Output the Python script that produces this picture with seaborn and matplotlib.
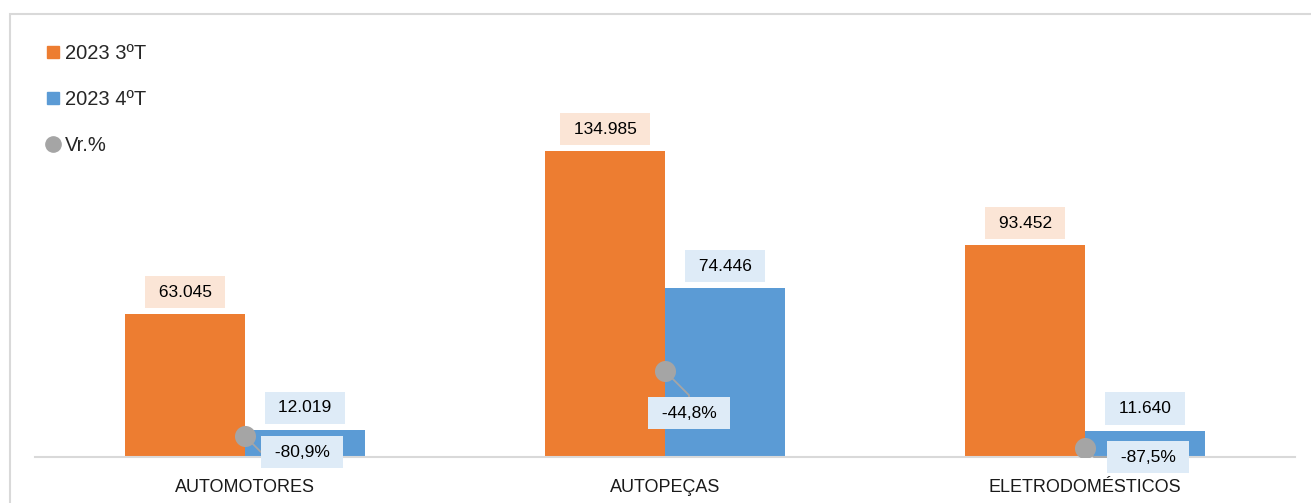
import pandas as pd
import seaborn as sns
import matplotlib.pyplot as plt
from matplotlib.lines import Line2D
from matplotlib.patches import Rectangle

# data
categorias = ["AUTOMOTORES", "AUTOPEÇAS", "ELETRODOMÉSTICOS"]
periodos = ["2023 3ºT", "2023 4ºT"]
valores_3t = [63045, 134985, 93452]
valores_4t = [12019, 74446, 11640]
variacao = [-80.9, -44.8, -87.5]

cor_3t = "#ED7D31"
cor_4t = "#5B9BD5"
cor_vr = "#A5A5A5"
fundo_3t = "#FBE5D6"
fundo_4t = "#DEEBF7"

# long table for seaborn
df = pd.DataFrame({
    "categoria": categorias * 2,
    "periodo": [periodos[0]] * 3 + [periodos[1]] * 3,
    "valor": valores_3t + valores_4t,
})

sns.set_style("white")
plt.rcParams["font.family"] = ["Liberation Sans", "DejaVu Sans"]

W, H = 1311, 503
fig = plt.figure(figsize=(W / 100, H / 100), dpi=100)
ax = fig.add_axes([35 / W, 46 / H, 1260 / W, 417 / H])

sns.barplot(data=df, x="categoria", y="valor", hue="periodo",
            palette=[cor_3t, cor_4t], width=0.571, gap=0,
            saturation=1, legend=False, linewidth=0, ax=ax)
ax.set_ylim(0, 184000)
ax.set_xlim(-0.5, 2.5)
ax.set_yticks([])
ax.set_xlabel("")
ax.set_ylabel("")
for s in ["top", "left", "right"]:
    ax.spines[s].set_visible(False)
ax.spines["bottom"].set_color("#D9D9D9")
ax.spines["bottom"].set_linewidth(1.5)
ax.tick_params(axis="x", length=0, pad=15.5, labelsize=13, labelcolor="#1a1a1a")

# value labels above each bar
for i, barra in enumerate(ax.patches[:6]):
    fundo = fundo_3t if i < 3 else fundo_4t
    x = barra.get_x() + barra.get_width() / 2
    h = barra.get_height()
    txt = " " + f"{int(round(h)):,}".replace(",", ".") + " "
    ax.annotate(txt, xy=(x, h), xytext=(0, 22), textcoords="offset pixels",
                ha="center", va="center", fontsize=12.5, color="#000000",
                bbox=dict(boxstyle="square,pad=0.5", fc=fundo, ec="none"))

# secondary axis for the % change
ax2 = ax.twinx()
ax2.set_ylim(-0.925, 1.392)
ax2.axis("off")
pos = list(range(len(categorias)))
vr = [v / 100 for v in variacao]
ax2.scatter(pos, vr, s=230, color=cor_vr, zorder=5, linewidths=0)

desloc = [(57, -16), (24, -42), (63, -9)]
conexao = ["angle,angleA=0,angleB=-45,rad=0",
           "angle,angleA=90,angleB=-45,rad=0",
           "angle,angleA=0,angleB=-45,rad=0"]
for p, v, d, c in zip(pos, variacao, desloc, conexao):
    rot = " " + f"{v:.1f}%".replace(".", ",") + " "
    ax2.annotate(rot, xy=(p, v / 100), xytext=d, textcoords="offset pixels",
                 ha="center", va="center", fontsize=12.5, color="#000000",
                 bbox=dict(boxstyle="square,pad=0.5", fc=fundo_4t, ec="none"),
                 arrowprops=dict(arrowstyle="-", color=cor_vr, lw=1.3,
                                 connectionstyle=c, shrinkA=0, shrinkB=0),
                 zorder=4)

# legend
handles = [
    Line2D([], [], marker="s", ls="none", color=cor_3t, markersize=9),
    Line2D([], [], marker="s", ls="none", color=cor_4t, markersize=9),
    Line2D([], [], marker="o", ls="none", color=cor_vr, markersize=11),
]
ax2.legend(handles, periodos + ["Vr.%"], loc="upper left",
           bbox_to_anchor=(45 / W, 1 - 44 / H), bbox_transform=fig.transFigure,
           frameon=False, fontsize=14.5, labelspacing=1.33,
           handlelength=0.8, handletextpad=0.2, borderpad=0, borderaxespad=0)

# chart area border
fig.add_artist(Rectangle((10 / W, -0.5), 2, 1 - 14 / H + 0.5,
                         transform=fig.transFigure, fill=False,
                         edgecolor="#D9D9D9", lw=1.5))

fig.savefig("out.png", dpi=100)
